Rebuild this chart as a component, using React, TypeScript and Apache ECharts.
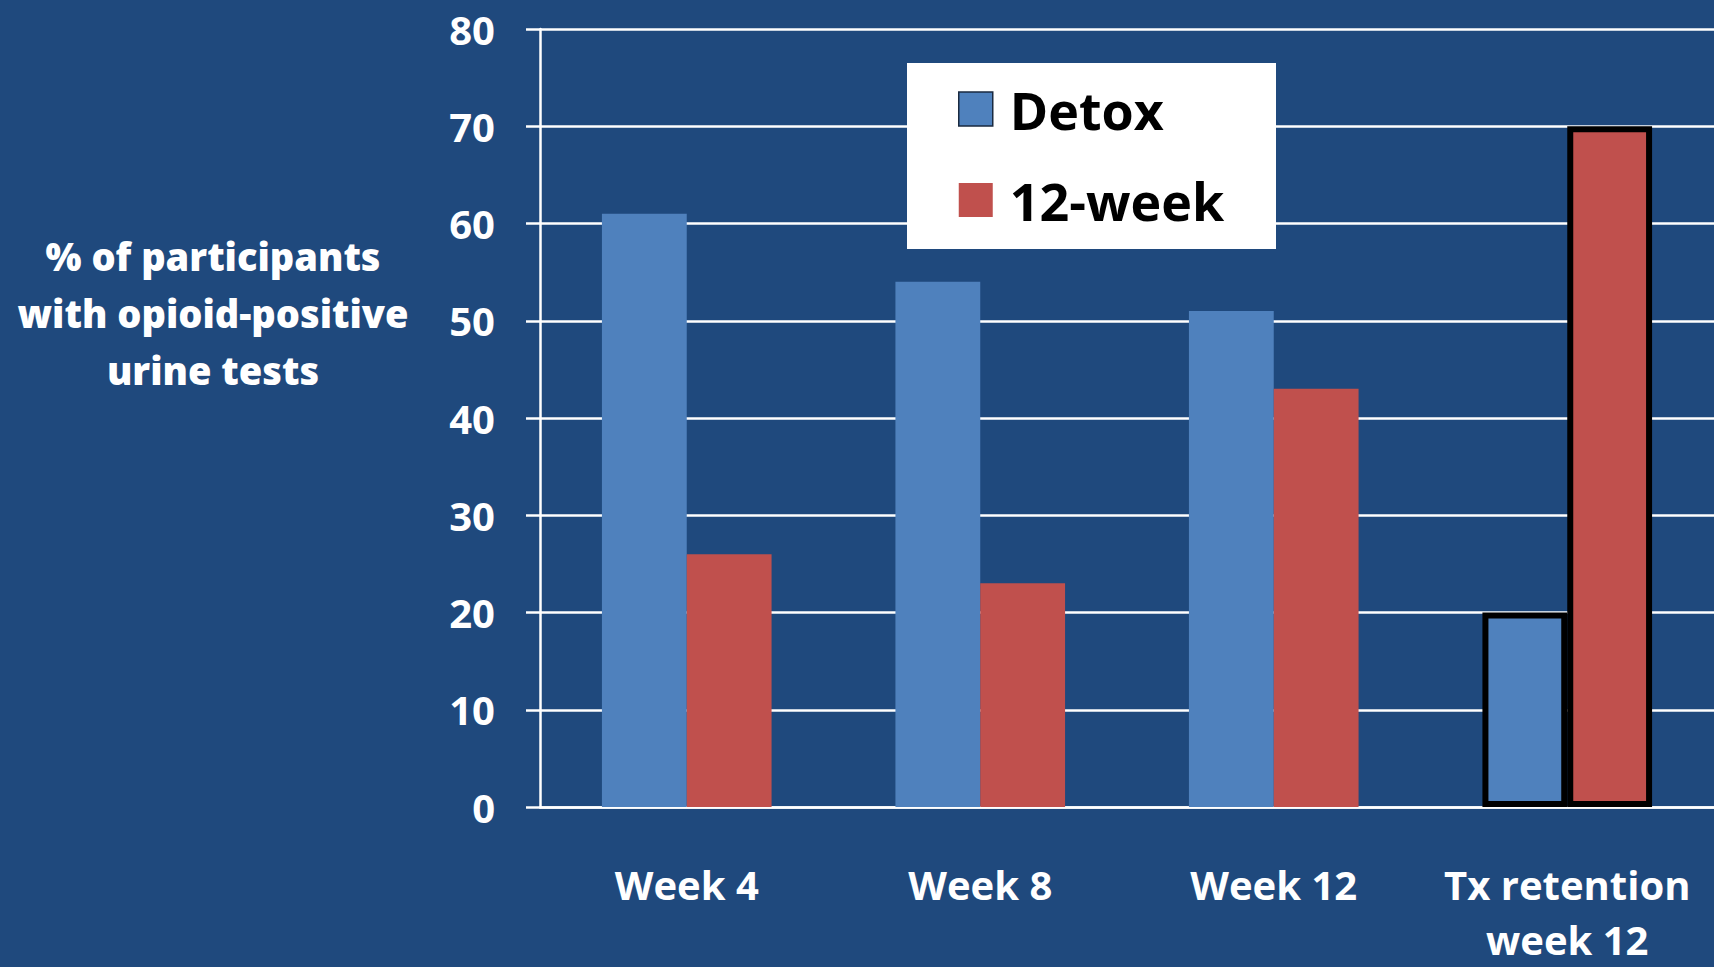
import React, { useEffect, useRef } from "react";
import * as echarts from "echarts";

const categories = ["Week 4", "Week 8", "Week 12", "Tx retention\nweek 12"];
const detoxValues = [61, 54, 51, 20];
const twelveWeekValues = [26, 23, 43, 70];
const seriesNames = ["Detox", "12-week"];
const yTicks = { min: 0, max: 80, interval: 10 };
const yTitle = "% of participants\nwith opioid-positive\nurine tests";

const BG = "#1F497D";
const BLUE = "#4F81BD";
const RED = "#C0504D";
const FONT = "'Open Sans', 'DejaVu Sans', sans-serif";

export default function App() {
  const ref = useRef<HTMLDivElement>(null);

  useEffect(() => {
    if (!ref.current) return;
    const chart = echarts.init(ref.current, undefined, { renderer: "svg" });
    const highlightIdx = 3;
    const mk = (vals: number[]) =>
      vals.map((v, i) =>
        i === highlightIdx
          ? { value: v, itemStyle: { borderColor: "#000", borderWidth: 6 } }
          : { value: v }
      );
    chart.setOption({
      animation: false,
      backgroundColor: BG,
      grid: { left: 540, right: -2, top: 29, bottom: 153, containLabel: false },
      xAxis: {
        type: "category",
        data: categories,
        axisLine: { show: true, lineStyle: { color: "#fff", width: 2.5 } },
        axisTick: { show: false },
        axisLabel: {
          color: "#fff",
          fontFamily: FONT,
          fontWeight: "bold",
          fontSize: 40,
          lineHeight: 55,
          margin: 50,
          interval: 0,
        },
      },
      yAxis: {
        type: "value",
        min: yTicks.min,
        max: yTicks.max,
        interval: yTicks.interval,
        axisLine: { show: true, lineStyle: { color: "#fff", width: 2.5 } },
        axisTick: { show: true, length: 14, lineStyle: { color: "#fff", width: 2.5 } },
        splitLine: { show: true, lineStyle: { color: "#fff", width: 2.5 } },
        axisLabel: {
          color: "#fff",
          fontFamily: FONT,
          fontWeight: "bold",
          fontSize: 40,
          margin: 45,
        },
      },
      legend: {
        orient: "vertical",
        left: 953,
        top: 76,
        itemWidth: 34,
        itemHeight: 34,
        itemGap: 35,
        icon: "rect",
        data: [
          { name: seriesNames[0], itemStyle: { color: BLUE, borderColor: "#1a2a40", borderWidth: 1.5 } },
          { name: seriesNames[1], itemStyle: { color: RED, borderWidth: 0 } },
        ],
        textStyle: {
          color: "#000",
          fontFamily: FONT,
          fontWeight: "bold",
          fontSize: 52,
          lineHeight: 56,
          padding: [0, 0, 0, 12],
        },
        z: 10,
      },
      graphic: [
        {
          type: "rect",
          z: 5,
          shape: { x: 907, y: 63, width: 369, height: 186 },
          style: { fill: "#fff" },
        },
        {
          type: "text",
          z: 5,
          x: 213,
          y: 313,
          style: {
            text: yTitle,
            fill: "#fff",
            font: `800 38px ${FONT}`,
            lineHeight: 57,
            textAlign: "center",
            textVerticalAlign: "middle",
          },
        },
      ],
      series: [
        {
          name: seriesNames[0],
          type: "bar",
          data: mk(detoxValues),
          itemStyle: { color: BLUE },
          barGap: "0%",
          barCategoryGap: "42.2%",
        },
        {
          name: seriesNames[1],
          type: "bar",
          data: mk(twelveWeekValues),
          itemStyle: { color: RED },
          barGap: "0%",
          barCategoryGap: "42.2%",
        },
      ],
    });
    return () => chart.dispose();
  }, []);

  return (
    <div
      ref={ref}
      style={{ position: "fixed", left: 0, top: 0, width: 1714, height: 967 }}
    />
  );
}
